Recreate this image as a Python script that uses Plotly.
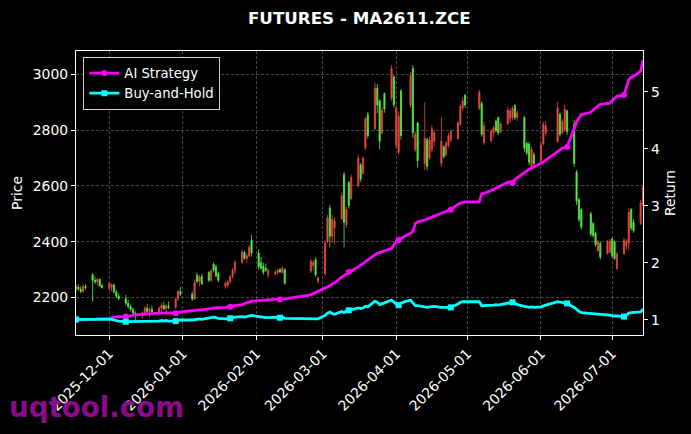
import pandas as pd
import plotly.graph_objects as go

# dias sem pregao (fins de semana ja saem com bdate_range)
sem_pregao = ["2026-01-01", "2026-01-02",
              "2026-02-16", "2026-02-17", "2026-02-18", "2026-02-19", "2026-02-20", "2026-02-23",
              "2026-04-06", "2026-05-01", "2026-05-04", "2026-05-05",
              "2026-06-04", "2026-06-05", "2026-06-19"]

datas = pd.bdate_range("2025-11-17", "2026-07-14")
datas = datas[~datas.isin(pd.to_datetime(sem_pregao))]

# OHLC diario (uma linha por semana)
abertura = [
    2232, 2238, 2230, 2222, 2240,
    2282, 2262, 2256, 2265, 2242,
    2232, 2238, 2245, 2220, 2205,
    2196, 2180, 2168, 2158, 2145,
    2135, 2146, 2162, 2150, 2158,
    2148, 2162, 2172, 2160, 2170,
    2165, 2195, 2222,
    2212, 2195, 2280, 2258, 2275,
    2290, 2262, 2320, 2310, 2285,
    2240, 2244, 2256, 2276, 2298,
    2326, 2362, 2340, 2350, 2405,
    2360, 2325, 2312, 2305, 2280,
    2285, 2290, 2300, 2290, 2300,
    2295, 2315, 2335, 2258,
    2285, 2400, 2520, 2420, 2450,
    2482, 2640, 2460, 2612, 2555,
    2600, 2675, 2645, 2735, 2855,
    2805, 2950, 2905, 2790, 2930,
    2915, 2990, 2745, 2720, 2940,
    2890, 3020, 2730, 2825,
    2680, 2765, 2700, 2730, 2760,
    2680, 2740, 2712, 2745, 2765,
    2770, 2820, 2880, 2925,
    2878, 2895, 2755,
    2762, 2790, 2832, 2845, 2795,
    2822, 2840, 2845, 2888, 2845,
    2845, 2752, 2750, 2665, 2712,
    2690, 2750, 2790,
    2760, 2855, 2790, 2800, 2868,
    2820, 2650, 2550, 2515,
    2500, 2465, 2430, 2368, 2395,
    2358, 2362, 2410, 2400, 2305,
    2358, 2385, 2395, 2515, 2470,
    2465, 2530,
]
maxima = [
    2245, 2248, 2242, 2246, 2248,
    2288, 2275, 2270, 2268, 2250,
    2255, 2252, 2250, 2228, 2215,
    2210, 2192, 2176, 2165, 2152,
    2150, 2170, 2178, 2165, 2172,
    2168, 2180, 2185, 2178, 2186,
    2200, 2228, 2238,
    2222, 2265, 2290, 2282, 2285,
    2295, 2302, 2326, 2318, 2292,
    2258, 2262, 2282, 2305, 2335,
    2372, 2368, 2358, 2388, 2425,
    2372, 2345, 2325, 2322, 2305,
    2298, 2302, 2306, 2312, 2305,
    2338, 2335, 2345, 2276,
    2405, 2495, 2532, 2495, 2488,
    2578, 2650, 2525, 2618, 2642,
    2712, 2682, 2706, 2848, 2864,
    2970, 2965, 2910, 2882, 2935,
    3033, 2998, 2890, 2866, 2946,
    3008, 3033, 2795, 2830,
    2900, 2772, 2776, 2818, 2800,
    2847, 2745, 2760, 2790, 2802,
    2832, 2892, 2918, 2928,
    2944, 2902, 2830,
    2802, 2815, 2838, 2848, 2830,
    2882, 2878, 2885, 2892, 2870,
    2850, 2758, 2758, 2742, 2720,
    2756, 2830, 2832,
    2900, 2862, 2840, 2890, 2873,
    2836, 2657, 2557, 2521,
    2507, 2471, 2435, 2407, 2400,
    2407, 2410, 2414, 2405, 2364,
    2414, 2410, 2521, 2521, 2480,
    2550, 2603,
]
minimas = [
    2222, 2225, 2215, 2218, 2228,
    2185, 2248, 2245, 2238, 2232,
    2225, 2222, 2215, 2198, 2190,
    2172, 2160, 2150, 2138, 2120,
    2125, 2138, 2142, 2130, 2140,
    2140, 2150, 2155, 2148, 2158,
    2160, 2188, 2205,
    2188, 2192, 2252, 2240, 2245,
    2255, 2256, 2290, 2272, 2255,
    2232, 2236, 2250, 2268, 2285,
    2320, 2335, 2325, 2344, 2346,
    2300, 2300, 2282, 2292, 2270,
    2280, 2282, 2288, 2286, 2245,
    2288, 2300, 2274, 2250,
    2280, 2395, 2380, 2395, 2392,
    2478, 2380, 2450, 2518, 2548,
    2595, 2615, 2640, 2728, 2770,
    2798, 2860, 2730, 2782, 2862,
    2905, 2880, 2736, 2712, 2765,
    2880, 2772, 2722, 2665,
    2657, 2657, 2693, 2722, 2740,
    2668, 2698, 2705, 2735, 2755,
    2765, 2815, 2870, 2880,
    2872, 2776, 2747,
    2755, 2775, 2792, 2782, 2788,
    2818, 2825, 2835, 2836, 2832,
    2722, 2710, 2675, 2657, 2665,
    2685, 2745, 2780,
    2754, 2776, 2785, 2793, 2783,
    2668, 2532, 2471, 2443,
    2418, 2415, 2382, 2364, 2336,
    2353, 2358, 2343, 2335, 2300,
    2353, 2372, 2371, 2440, 2432,
    2460, 2525,
]
fechamento = [
    2238, 2230, 2222, 2240, 2236,
    2262, 2256, 2265, 2242, 2236,
    2250, 2245, 2220, 2205, 2196,
    2180, 2168, 2158, 2145, 2135,
    2146, 2162, 2150, 2158, 2148,
    2162, 2172, 2160, 2170, 2165,
    2195, 2222, 2212,
    2195, 2255, 2258, 2275, 2250,
    2262, 2296, 2298, 2278, 2262,
    2252, 2256, 2276, 2298, 2326,
    2362, 2340, 2350, 2380, 2360,
    2310, 2305, 2290, 2298, 2298,
    2292, 2298, 2292, 2305, 2252,
    2330, 2325, 2282, 2270,
    2395, 2485, 2420, 2480, 2475,
    2565, 2470, 2515, 2530, 2630,
    2700, 2625, 2698, 2840, 2780,
    2950, 2890, 2760, 2870, 2875,
    3020, 2890, 2880, 2850, 2780,
    2995, 2790, 2785, 2690,
    2770, 2670, 2765, 2805, 2790,
    2760, 2705, 2752, 2780, 2795,
    2825, 2885, 2905, 2890,
    2935, 2785, 2815,
    2795, 2808, 2798, 2790, 2822,
    2872, 2868, 2878, 2845, 2862,
    2735, 2718, 2685, 2730, 2680,
    2748, 2820, 2815,
    2880, 2785, 2830, 2875, 2795,
    2680, 2545, 2480, 2452,
    2428, 2422, 2390, 2400, 2345,
    2400, 2402, 2350, 2340, 2355,
    2405, 2400, 2505, 2450, 2440,
    2540, 2595,
]

# retorno acumulado (eixo da direita)
retorno_ia = [
    1.00, 1.00, 1.00, 1.01, 1.01,
    1.01, 1.01, 1.02, 1.02, 1.02,
    1.03, 1.04, 1.05, 1.05, 1.06,
    1.06, 1.07, 1.08, 1.08, 1.09,
    1.10, 1.10, 1.11, 1.11, 1.11,
    1.12, 1.12, 1.12, 1.12, 1.12,
    1.12, 1.13, 1.14,
    1.16, 1.17, 1.17, 1.18, 1.18,
    1.20, 1.20, 1.21, 1.21, 1.22,
    1.22, 1.23, 1.23, 1.24, 1.25,
    1.27, 1.29, 1.30, 1.32, 1.33,
    1.34, 1.34, 1.35, 1.35, 1.35,
    1.36, 1.36, 1.36, 1.37, 1.37,
    1.44, 1.46, 1.47, 1.49,
    1.55, 1.58, 1.60, 1.63, 1.65,
    1.75, 1.78, 1.81, 1.84, 1.86,
    1.93, 1.96, 1.99, 2.02, 2.04,
    2.14, 2.17, 2.18, 2.19, 2.21,
    2.25, 2.31, 2.37, 2.40, 2.43,
    2.52, 2.55, 2.69, 2.72,
    2.75, 2.77, 2.79, 2.81, 2.82,
    2.87, 2.88, 2.90, 2.92, 2.93,
    3.03, 3.05, 3.06, 3.07,
    3.07, 3.21, 3.22,
    3.27, 3.29, 3.31, 3.33, 3.36,
    3.41, 3.42, 3.40, 3.46, 3.49,
    3.58, 3.62, 3.64, 3.66, 3.68,
    3.74, 3.77, 3.80,
    3.95, 3.99, 4.01, 4.02, 4.03,
    4.35, 4.47, 4.54, 4.60,
    4.64, 4.68, 4.71, 4.75, 4.78,
    4.80, 4.80, 4.84, 4.88, 4.92,
    4.94, 5.10, 5.21, 5.25, 5.27,
    5.36, 5.55,
]
retorno_bh = [
    1.01, 1.01, 1.01, 1.01, 1.01,
    1.02, 1.02, 1.02, 1.01, 1.01,
    1.01, 1.01, 1.00, 0.99, 0.98,
    0.97, 0.97, 0.97, 0.97, 0.97,
    0.98, 0.98, 0.98, 0.98, 0.98,
    0.98, 0.99, 0.98, 0.99, 0.98,
    0.98, 0.99, 1.00,
    1.00, 1.01, 1.01, 1.02, 1.01,
    1.03, 1.04, 1.05, 1.04, 1.03,
    1.02, 1.02, 1.03, 1.04, 1.05,
    1.06, 1.05, 1.06, 1.07, 1.08,
    1.06, 1.05, 1.04, 1.04, 1.04,
    1.04, 1.04, 1.04, 1.05, 1.03,
    1.03, 1.03, 1.02, 1.02,
    1.08, 1.12, 1.14, 1.11, 1.10,
    1.15, 1.13, 1.16, 1.17, 1.18,
    1.21, 1.20, 1.21, 1.24, 1.23,
    1.33, 1.31, 1.27, 1.28, 1.30,
    1.35, 1.31, 1.28, 1.26, 1.30,
    1.35, 1.30, 1.25, 1.25,
    1.23, 1.22, 1.23, 1.23, 1.24,
    1.22, 1.22, 1.23, 1.23, 1.22,
    1.28, 1.31, 1.32, 1.32,
    1.32, 1.25, 1.25,
    1.26, 1.26, 1.27, 1.26, 1.27,
    1.30, 1.31, 1.31, 1.29, 1.27,
    1.24, 1.23, 1.22, 1.23, 1.22,
    1.23, 1.25, 1.26,
    1.32, 1.31, 1.30, 1.30, 1.29,
    1.22, 1.18, 1.15, 1.13,
    1.11, 1.11, 1.10, 1.10, 1.10,
    1.09, 1.08, 1.08, 1.07, 1.07,
    1.06, 1.08, 1.12, 1.13, 1.13,
    1.14, 1.19,
]

ticks_x = ["2025-12-01", "2026-01-01", "2026-02-01", "2026-03-01",
           "2026-04-01", "2026-05-01", "2026-06-01", "2026-07-01"]
ticks_preco = [2200, 2400, 2600, 2800, 3000]
ticks_retorno = [1, 2, 3, 4, 5]

vermelho = "#e8493d"   # alta
verde = "#58ec46"      # baixa
fonte = "DejaVu Sans"


def cores_marcador(cor, n, passo=15):
    # marcador so a cada 15 pregoes, o resto fica transparente
    return [cor if i % passo == 0 else "rgba(0,0,0,0)" for i in range(n)]


fig = go.Figure()

fig.add_trace(go.Candlestick(
    x=datas, open=abertura, high=maxima, low=minimas, close=fechamento,
    increasing=dict(line=dict(color=vermelho, width=0.8), fillcolor=vermelho),
    decreasing=dict(line=dict(color=verde, width=0.8), fillcolor=verde),
    whiskerwidth=0,
    showlegend=False,
    yaxis="y",
))

fig.add_trace(go.Scatter(
    x=datas, y=retorno_ia, name="AI Strategy", yaxis="y2",
    mode="lines+markers",
    line=dict(color="#ff00ff", width=2.8),
    marker=dict(symbol="circle", size=6, color=cores_marcador("#ff00ff", len(datas))),
))

fig.add_trace(go.Scatter(
    x=datas, y=retorno_bh, name="Buy-and-Hold", yaxis="y2",
    mode="lines+markers",
    line=dict(color="#00ffff", width=2.8),
    marker=dict(symbol="square", size=6, color=cores_marcador("#00ffff", len(datas))),
))

grade = dict(showgrid=True, gridcolor="rgba(150,150,150,0.45)", griddash="3px,2px", gridwidth=0.7)

fig.update_layout(
    width=691,
    height=434,
    margin=dict(l=76, r=48, t=51, b=99),
    paper_bgcolor="black",
    plot_bgcolor="black",
    font=dict(family=fonte, color="white", size=13.9),
    title=dict(
        text="FUTURES - MA2611.ZCE",
        x=0.52, xanchor="center", y=0.958, yanchor="middle",
        font=dict(family=fonte, size=16.7, color="white", weight="bold"),
    ),
    xaxis=dict(
        type="date",
        range=["2025-11-17", "2026-07-14"],
        tickvals=ticks_x,
        tickformat="%Y-%m-%d",
        tickangle=-45,
        ticks="outside", ticklen=4, tickcolor="white",
        showline=True, linecolor="white", linewidth=1.2, mirror=True,
        zeroline=False,
        rangeslider=dict(visible=False),
        tickfont=dict(size=13.9, color="white"),
        **grade,
    ),
    yaxis=dict(
        range=[2066, 3083],
        tickvals=ticks_preco,
        ticks="outside", ticklen=4, tickcolor="white",
        showline=True, linecolor="white", linewidth=1.2, mirror=True,
        zeroline=False,
        title=dict(text="Price", standoff=6, font=dict(size=13.9)),
        tickfont=dict(size=13.9, color="white"),
        **grade,
    ),
    yaxis2=dict(
        overlaying="y", side="right",
        range=[0.737, 5.713],
        tickvals=ticks_retorno,
        ticks="outside", ticklen=4, tickcolor="white",
        showline=True, linecolor="white", linewidth=1.2,
        showgrid=False, zeroline=False,
        title=dict(text="Return", standoff=6, font=dict(size=13.9)),
        tickfont=dict(size=13.9, color="white"),
    ),
    legend=dict(
        x=0.013, y=0.979, xanchor="left", yanchor="top",
        bgcolor="black", bordercolor="#cccccc", borderwidth=1,
        font=dict(size=13.2, color="white"),
        tracegroupgap=0,
    ),
    annotations=[dict(
        text="uqtool.com", xref="paper", yref="paper",
        x=-0.122, y=-0.257, xanchor="left", yanchor="middle",
        showarrow=False,
        font=dict(family=fonte, size=27.7, color="#8b0a8b", weight="bold"),
    )],
)

# a pagina padrao tem margem de 8px no body; zera para o grafico ocupar a janela toda
fig.write_html(
    "out.html",
    config={"displayModeBar": False},
    post_script="document.body.style.margin='0';",
)
